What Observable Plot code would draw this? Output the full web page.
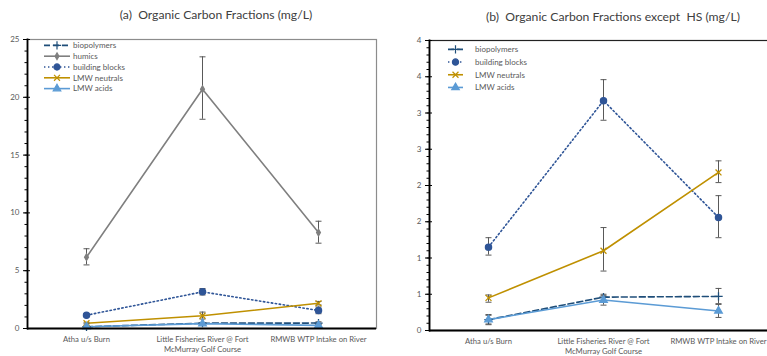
<!DOCTYPE html>
<html>
<head>
<meta charset="utf-8">
<script src="https://cdn.jsdelivr.net/npm/d3@7"></script>
<script src="https://cdn.jsdelivr.net/npm/@observablehq/plot@0.6"></script>
<style>
  html, body { margin: 0; padding: 0; background: #fff; }
  #wrap { position: relative; width: 767px; height: 356px; overflow: hidden; background: #fff; font-family: Lato, "Open Sans", sans-serif; color: #595959; }
  .panel { position: absolute; top: 0; }
  .title { position: absolute; width: 400px; text-align: center; font-size: 12.2px; white-space: pre; color: #404040; }
</style>
</head>
<body>
<div id="wrap"></div>
<script>
// ---- data ----
const categories = ["Atha u/s Burn", "Little Fisheries River @ Fort\nMcMurray Golf Course", "RMWB WTP Intake on River"];
const seriesNames = ["biopolymers", "humics", "building blocks", "LMW neutrals", "LMW acids"];
const biopolymers = [0.15, 0.46, 0.47];
const biopolymersLo = [0.08, 0.40, 0.37];
const biopolymersHi = [0.22, 0.50, 0.58];
const humics = [6.17, 20.7, 8.3];
const humicsLo = [5.5, 18.1, 7.38];
const humicsHi = [6.9, 23.5, 9.28];
const buildingBlocks = [1.15, 3.17, 1.56];
const buildingBlocksLo = [1.04, 2.90, 1.28];
const buildingBlocksHi = [1.28, 3.46, 1.86];
const lmwNeutrals = [0.45, 1.10, 2.18];
const lmwNeutralsLo = [0.39, 0.82, 2.04];
const lmwNeutralsHi = [0.49, 1.42, 2.34];
const lmwAcids = [0.15, 0.42, 0.27];
const lmwAcidsLo = [0.09, 0.35, 0.18];
const lmwAcidsHi = [0.21, 0.48, 0.36];
const leftTicks = [0, 5, 10, 15, 20, 25];
const leftTickLabels = ["0", "5", "10", "15", "20", "25"];
const rightTicks = [0, 0.5, 1, 1.5, 2, 2.5, 3, 3.5, 4];
const rightTickLabels = ["0", "1", "1", "2", "2", "3", "3", "4", "4"];

// ---- styles ----
const styles = {
  "biopolymers":     {color: "#1F4E79", dash: "6,3", symbol: "plus", fill: "none", r: 2.8},
  "humics":          {color: "#7F7F7F", dash: null, symbol: "diamond", fill: "#7F7F7F", r: 2},
  "building blocks": {color: "#2F5597", dash: "1.4,2.6", symbol: "circle", fill: "#2F5597", r: 3.1},
  "LMW neutrals":    {color: "#BF9000", dash: null, symbol: "times", fill: "none", r: 2.8},
  "LMW acids":       {color: "#5B9BD5", dash: null, symbol: "triangle", fill: "#5B9BD5", r: 2.8}
};
const values = {
  "biopolymers": [biopolymers, biopolymersLo, biopolymersHi],
  "humics": [humics, humicsLo, humicsHi],
  "building blocks": [buildingBlocks, buildingBlocksLo, buildingBlocksHi],
  "LMW neutrals": [lmwNeutrals, lmwNeutralsLo, lmwNeutralsHi],
  "LMW acids": [lmwAcids, lmwAcidsLo, lmwAcidsHi]
};
const rows = name => categories.map((c, i) => ({cat: c, v: values[name][0][i], lo: values[name][1][i], hi: values[name][2][i]}));

const capSymbol = {draw(ctx, size) { const w = 3; ctx.moveTo(-w, 0); ctx.lineTo(w, 0); }};

function seriesMarks(names) {
  const marks = [];
  for (const n of names) {
    const s = styles[n], d = rows(n);
    marks.push(Plot.line(d, {x: "cat", y: "v", stroke: s.color, strokeWidth: 1.6, strokeDasharray: s.dash}));
  }
  for (const n of names) {
    const d = rows(n);
    marks.push(Plot.ruleX(d, {x: "cat", y1: "lo", y2: "hi", stroke: "#595959", strokeWidth: 1}));
    marks.push(Plot.dot(d, {x: "cat", y: "lo", symbol: capSymbol, stroke: "#595959", strokeWidth: 1}));
    marks.push(Plot.dot(d, {x: "cat", y: "hi", symbol: capSymbol, stroke: "#595959", strokeWidth: 1}));
  }
  for (const n of names) {
    const s = styles[n], d = rows(n);
    marks.push(Plot.dot(d, {x: "cat", y: "v", symbol: s.symbol, r: s.r, fill: s.fill, stroke: s.color, strokeWidth: 1.3}));
  }
  return marks;
}

function makePanel(opts) {
  const yTickFmt = d => opts.tickLabels[opts.ticks.indexOf(d)];
  return Plot.plot({
    width: opts.width, height: 356,
    marginLeft: opts.ml, marginRight: opts.mr, marginTop: opts.mt, marginBottom: opts.mb,
    style: {fontFamily: "Lato, 'Open Sans', sans-serif", color: "#595959", background: "transparent"},
    x: {type: "point", domain: categories, padding: 0.5},
    y: {domain: [0, opts.ymax]},
    marks: [
      Plot.frame({stroke: opts.frameColor, strokeWidth: 1.2}),
      Plot.axisY({ticks: opts.minor, tickSize: 2.5, tickFormat: () => "", label: null, stroke: "#000"}),
      Plot.axisY({ticks: opts.ticks, tickSize: 4, tickPadding: 4, tickFormat: yTickFmt, label: null, fontSize: 8, fill: "#595959", stroke: "#000"}),
      Plot.axisY({ticks: opts.ticks, tickSize: -3, tickFormat: () => "", label: null, stroke: "#000"}),
      Plot.axisX({tickSize: 0, tickPadding: 7, fontSize: 7.7, fill: "#595959", lineHeight: 1.25, label: null}),
      ...seriesMarks(opts.series),
      Plot.ruleY([0], {stroke: "#000", strokeWidth: 1.8}),
      Plot.frame({anchor: "left", stroke: "#000", strokeWidth: 1.8})
    ]
  });
}

const wrap = document.getElementById("wrap");

const left = makePanel({width: 383, ml: 27, mr: 7, mt: 39, mb: 28, ymax: 25,
  ticks: leftTicks, tickLabels: leftTickLabels, minor: d3.range(0, 25.01, 1),
  frameColor: "#8c8c8c", series: seriesNames});
left.classList.add("panel"); left.style.left = "0px";
wrap.appendChild(left);

const right = makePanel({width: 393, ml: 46, mr: 0, mt: 40, mb: 26, ymax: 4,
  ticks: rightTicks, tickLabels: rightTickLabels, minor: d3.range(0, 4.001, 0.1),
  frameColor: "#222", series: seriesNames.filter(n => n !== "humics")});
right.classList.add("panel"); right.style.left = "383px";
wrap.appendChild(right);

// titles
function addTitle(text, cx, top) {
  const t = document.createElement("div");
  t.className = "title"; t.textContent = text;
  t.style.left = (cx - 200) + "px"; t.style.top = top + "px";
  wrap.appendChild(t);
}
addTitle("(a)  Organic Carbon Fractions (mg/L)", 216, 7);
addTitle("(b)  Organic Carbon Fractions except  HS (mg/L)", 613, 9);

// legends
function addLegend(names, x, y, rowH, lineW, textGap) {
  const w = 160, h = rowH * names.length + 4;
  const svg = d3.create("svg").attr("width", w).attr("height", h).style("position", "absolute")
    .style("left", x + "px").style("top", y + "px").style("overflow", "visible");
  names.forEach((n, i) => {
    const s = styles[n], cy = rowH * i + rowH / 2;
    svg.append("line").attr("x1", 0).attr("x2", lineW).attr("y1", cy).attr("y2", cy)
      .attr("stroke", s.color).attr("stroke-width", 1.6).attr("stroke-dasharray", s.dash);
    const sym = {circle: d3.symbolCircle, plus: d3.symbolPlus, times: d3.symbolTimes, triangle: d3.symbolTriangle, diamond: d3.symbolDiamond}[s.symbol];
    const size = Math.PI * s.r * s.r;
    svg.append("path").attr("d", d3.symbol(sym, size)()).attr("transform", `translate(${lineW / 2},${cy})`)
      .attr("fill", s.fill).attr("stroke", s.color).attr("stroke-width", 1.2);
    svg.append("text").attr("x", lineW + textGap).attr("y", cy).attr("dy", "0.35em")
      .attr("font-size", 8).attr("fill", "#595959").attr("font-family", "Lato, 'Open Sans', sans-serif").text(n);
  });
  wrap.appendChild(svg.node());
}
addLegend(seriesNames, 44, 40, 10.8, 26, 3);
addLegend(seriesNames.filter(n => n !== "humics"), 448, 43, 12.7, 15, 12);
</script>
</body>
</html>
